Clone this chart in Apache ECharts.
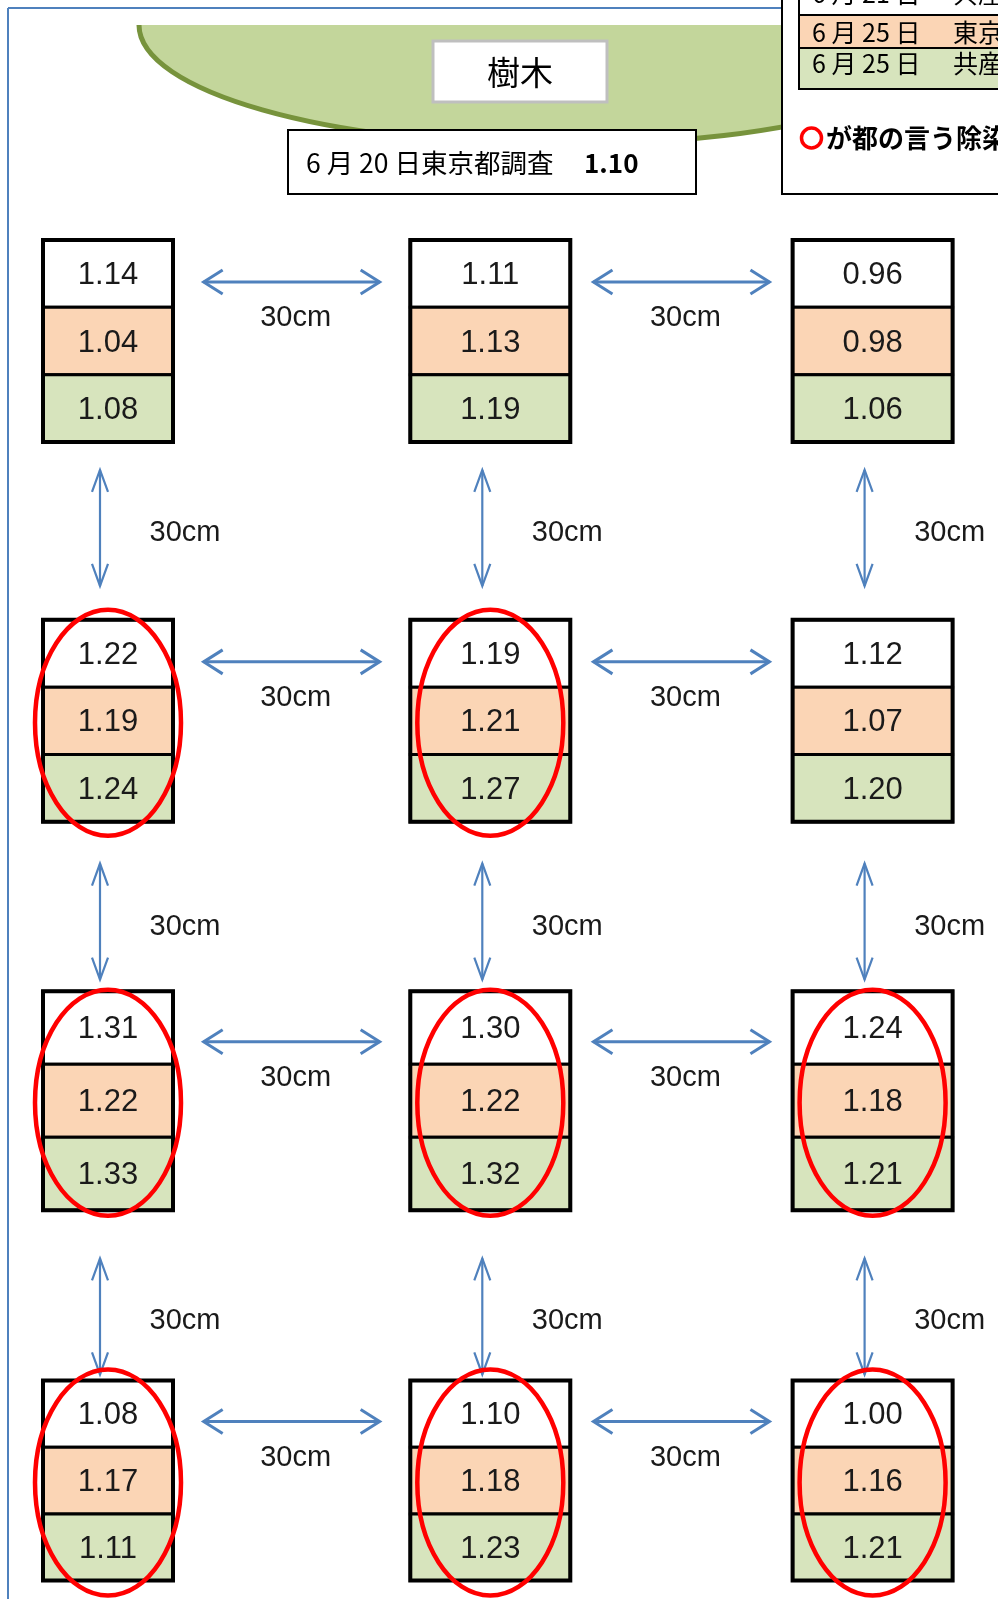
<!DOCTYPE html>
<html>
<head>
<meta charset="utf-8">
<script src="https://cdn.jsdelivr.net/npm/echarts@6/dist/echarts.min.js"></script>
<style>
html, body { margin: 0; padding: 0; background: #fff; }
#chart { width: 998px; height: 1599px; }
</style>
</head>
<body>
<div id="chart"></div>
<script>
// measurement grid: 3 columns x 4 rows, 30cm apart
const columns = ['左', '中', '右'];
const rows = ['1段', '2段', '3段', '4段'];
// white (upper) cell
const upperValues = [
  [1.14, 1.11, 0.96],
  [1.22, 1.19, 1.12],
  [1.31, 1.30, 1.24],
  [1.08, 1.10, 1.00]
];
// orange (middle) cell
const middleValues = [
  [1.04, 1.13, 0.98],
  [1.19, 1.21, 1.07],
  [1.22, 1.22, 1.18],
  [1.17, 1.18, 1.16]
];
// green (lower) cell
const lowerValues = [
  [1.08, 1.19, 1.06],
  [1.24, 1.27, 1.20],
  [1.33, 1.32, 1.21],
  [1.11, 1.23, 1.21]
];
// red circle = 都の言う除染ポイント
const circled = [
  [0, 0, 0],
  [1, 1, 0],
  [1, 1, 1],
  [1, 1, 1]
];
const distanceLabel = '30cm';
const treeLabel = '樹木';
const surveyLabel = '6 月 20 日東京都調査';
const surveyValue = '1.10';
const legendDates = ['6 月 21 日', '6 月 25 日', '6 月 25 日'];
const legendNames = ['共産党調査', '東京都調査', '共産党調査'];
const noteLabel = 'が都の言う除染ポイント';

// styles
const boxWidth = [130, 160, 160];
const boxHeight = [202, 202, 219, 200];
const vArrowShift = [-3, 15, 21];
const cellColors = ['#ffffff', '#fbd5b5', '#d7e4bd'];
const arrowColor = '#4f81bd';
const numFont = '31px "Liberation Sans", Arial, sans-serif';
const cmFont = '29px "Liberation Sans", Arial, sans-serif';
const jpFont = '"Noto Sans CJK JP", sans-serif';

const boxData = [];
const ringData = [];
rows.forEach((row, r) => {
  columns.forEach((col, c) => {
    boxData.push([col, row, upperValues[r][c], middleValues[r][c], lowerValues[r][c]]);
    if (circled[r][c]) ringData.push([col, row]);
  });
});

const arrowData = [];
rows.forEach((row, r) => {
  for (let c = 0; c < columns.length - 1; c++) arrowData.push([c, r, 0]);
});
for (let r = 0; r < rows.length - 1; r++) {
  columns.forEach((col, c) => arrowData.push([c, r, 1]));
}

function renderBox(params, api) {
  const c = api.value(0), r = api.value(1);
  const p = api.coord([c, r]);
  const w = boxWidth[c], h = boxHeight[r];
  const x0 = p[0] - w / 2, y0 = p[1] - h / 2, ch = h / 3;
  const children = [];
  [api.value(2), api.value(3), api.value(4)].forEach((v, i) => {
    children.push({
      type: 'rect',
      shape: { x: x0, y: y0 + i * ch, width: w, height: ch },
      style: { fill: cellColors[i], stroke: '#000', lineWidth: 3 }
    });
    children.push({
      type: 'text',
      x: p[0], y: y0 + (i + 0.5) * ch + 2,
      style: { text: v.toFixed(2), font: numFont, fill: '#1a1a1a', align: 'center', verticalAlign: 'middle' }
    });
  });
  children.push({
    type: 'rect',
    shape: { x: x0, y: y0, width: w, height: h },
    style: { fill: null, stroke: '#000', lineWidth: 4 }
  });
  return { type: 'group', children: children };
}

function renderRing(params, api) {
  const p = api.coord([api.value(0), api.value(1)]);
  return {
    type: 'ellipse',
    shape: { cx: p[0], cy: p[1] + 2, rx: 73, ry: 113 },
    style: { fill: null, stroke: '#ff0000', lineWidth: 4.5 }
  };
}

function renderArrow(params, api) {
  const c = api.value(0), r = api.value(1), dir = api.value(2);
  const a = api.coord([c, r]);
  const line = { stroke: arrowColor, lineWidth: 3, fill: null };
  if (dir === 0) {
    const b = api.coord([c + 1, r]);
    const mid = ((a[0] + boxWidth[c] / 2) + (b[0] - boxWidth[c + 1] / 2)) / 2;
    const y = a[1] - 59, x1 = mid - 88, x2 = mid + 88;
    return {
      type: 'group',
      children: [
        { type: 'line', shape: { x1: x1, y1: y, x2: x2, y2: y }, style: line },
        { type: 'polyline', shape: { points: [[x1 + 19, y - 12], [x1, y], [x1 + 19, y + 12]] }, style: line },
        { type: 'polyline', shape: { points: [[x2 - 19, y - 12], [x2, y], [x2 - 19, y + 12]] }, style: line },
        { type: 'text', x: mid + 4, y: a[1] - 23,
          style: { text: distanceLabel, font: cmFont, fill: '#1a1a1a', align: 'center', verticalAlign: 'middle' } }
      ]
    };
  }
  const b = api.coord([c, r + 1]);
  const mid = ((a[1] + boxHeight[r] / 2) + (b[1] - boxHeight[r + 1] / 2)) / 2 + vArrowShift[r];
  const x = a[0] - 8, y1 = mid - 58, y2 = mid + 58;
  const vline = { stroke: arrowColor, lineWidth: 2.2, fill: null };
  return {
    type: 'group',
    children: [
      { type: 'line', shape: { x1: x, y1: y1, x2: x, y2: y2 }, style: vline },
      { type: 'polyline', shape: { points: [[x - 8, y1 + 22], [x, y1], [x + 8, y1 + 22]] }, style: vline },
      { type: 'polyline', shape: { points: [[x - 8, y2 - 22], [x, y2], [x + 8, y2 - 22]] }, style: vline },
      { type: 'text', x: a[0] + 77, y: mid + 5,
        style: { text: distanceLabel, font: cmFont, fill: '#1a1a1a', align: 'center', verticalAlign: 'middle' } }
    ]
  };
}

const chart = echarts.init(document.getElementById('chart'));
chart.setOption({
  animation: false,
  backgroundColor: '#fff',
  grid: { left: 108, right: 125.4, top: 341, bottom: 118.4 },
  xAxis: { type: 'category', data: columns, boundaryGap: false, show: false },
  yAxis: { type: 'category', data: rows, boundaryGap: false, inverse: true, show: false },
  graphic: [
    // tree canopy
    { type: 'ellipse', z: 1, shape: { cx: 560, cy: 25, rx: 421, ry: 120 },
      style: { fill: '#c3d69b', stroke: '#77933c', lineWidth: 5 } },
    { type: 'rect', z: 2, shape: { x: 100, y: 0, width: 700, height: 25 }, style: { fill: '#fff' } },
    // blue frame
    { type: 'line', z: 3, shape: { x1: 8, y1: 8, x2: 8, y2: 1599 }, style: { stroke: '#4f81bd', lineWidth: 2 } },
    { type: 'line', z: 3, shape: { x1: 8, y1: 8, x2: 782, y2: 8 }, style: { stroke: '#4f81bd', lineWidth: 2 } },
    // 樹木 label
    { type: 'rect', z: 4, shape: { x: 433, y: 41, width: 174, height: 61 },
      style: { fill: '#fff', stroke: '#bfbfbf', lineWidth: 3 } },
    { type: 'text', z: 5, x: 520, y: 72,
      style: { text: treeLabel, font: '33px ' + jpFont, fill: '#000', align: 'center', verticalAlign: 'middle' } },
    // survey box
    { type: 'rect', z: 4, shape: { x: 288, y: 130, width: 408, height: 64 },
      style: { fill: '#fff', stroke: '#000', lineWidth: 2 } },
    { type: 'text', z: 5, x: 306, y: 163,
      style: { text: surveyLabel, font: '26.5px ' + jpFont, fill: '#000', align: 'left', verticalAlign: 'middle' } },
    { type: 'text', z: 5, x: 584, y: 163,
      style: { text: surveyValue, font: 'bold 26px ' + jpFont, fill: '#000', align: 'left', verticalAlign: 'middle' } },
    // legend panel (top right)
    { type: 'rect', z: 4, shape: { x: 782, y: -10, width: 240, height: 204 },
      style: { fill: '#fff', stroke: '#000', lineWidth: 2 } },
    { type: 'rect', z: 5, shape: { x: 799, y: -30, width: 220, height: 45 },
      style: { fill: cellColors[0], stroke: '#000', lineWidth: 2 } },
    { type: 'rect', z: 5, shape: { x: 799, y: 15, width: 220, height: 33 },
      style: { fill: cellColors[1], stroke: '#000', lineWidth: 2 } },
    { type: 'rect', z: 5, shape: { x: 799, y: 48, width: 220, height: 41 },
      style: { fill: cellColors[2], stroke: '#000', lineWidth: 2 } },
    ...[-7, 32, 63].flatMap((y, i) => [
      { type: 'text', z: 6, x: 812, y: y,
        style: { text: legendDates[i], font: '25px ' + jpFont, fill: '#000', align: 'left', verticalAlign: 'middle' } },
      { type: 'text', z: 6, x: 953, y: y,
        style: { text: legendNames[i], font: '25px ' + jpFont, fill: '#000', align: 'left', verticalAlign: 'middle' } }
    ]),
    { type: 'circle', z: 6, shape: { cx: 811.5, cy: 138, r: 10 },
      style: { fill: null, stroke: '#ff0000', lineWidth: 3.5 } },
    { type: 'text', z: 6, x: 826, y: 138,
      style: { text: noteLabel, font: 'bold 26px ' + jpFont, fill: '#000', align: 'left', verticalAlign: 'middle' } }
  ],
  series: [
    { type: 'custom', z: 2, clip: false, renderItem: renderBox, data: boxData },
    { type: 'custom', z: 3, clip: false, renderItem: renderArrow, data: arrowData },
    { type: 'custom', z: 4, clip: false, renderItem: renderRing, data: ringData }
  ]
});
</script>
</body>
</html>
